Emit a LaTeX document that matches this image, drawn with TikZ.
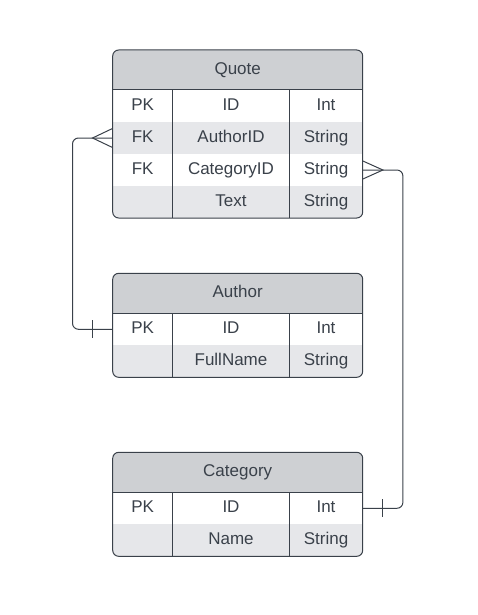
\documentclass[tikz,border=0pt]{standalone}
\usepackage{fontspec}
\setmainfont{Liberation Sans}
\definecolor{ln}{HTML}{3A414A}
\definecolor{hd}{HTML}{CED0D3}
\definecolor{rw}{HTML}{E6E7EA}
\newcommand\ertitle[3]{% name, ytop, title
  \node[cell, minimum width=250pt, minimum height=40pt] (#1) at (237.7,#2+20) {#3};}
\newcommand\errow[6]{% prefix, ytop, c1, c2, c3, unused
  \node[cell, minimum width=60pt] (#1a) at (142.7,#2+16) {#3};
  \node[cell, minimum width=116.6pt] (#1b) at (231,#2+16) {#4};
  \node[cell, minimum width=73.4pt] (#1c) at (326,#2+16) {#5};}
\begin{document}
\begin{tikzpicture}[x=1pt,y=-1pt,
  cell/.style={inner sep=0pt, minimum height=32pt, text height=12.2pt, text depth=3pt, text=ln, font=\fontsize{17}{20}\selectfont},
  border/.style={draw=ln, line width=1pt},
  conn/.style={draw=ln, line width=1pt}]
\useasboundingbox (0,0) rectangle (477,615);
% ---------- Quote ----------
\begin{scope}
  \clip[rounded corners=6pt] (112.7,50) rectangle (362.7,218);
  \fill[hd] (112.7,50) rectangle (362.7,90);
  \fill[white] (112.7,90) rectangle (362.7,122);
  \fill[rw] (112.7,122) rectangle (362.7,154);
  \fill[white] (112.7,154) rectangle (362.7,186);
  \fill[rw] (112.7,186) rectangle (362.7,218);
\end{scope}
\ertitle{quote}{50}{Quote}
\errow{qpk}{90}{PK}{ID}{Int}{}
\errow{qau}{122}{FK}{AuthorID}{String}{}
\errow{qca}{154}{FK}{CategoryID}{String}{}
\errow{qtx}{186}{}{Text}{String}{}
\draw[border] (112.7,90) -- (362.7,90);
\draw[border] (172.7,90) -- (172.7,218);
\draw[border] (289.3,90) -- (289.3,218);
\draw[border, rounded corners=6pt] (112.7,50) rectangle (362.7,218);
% ---------- Author ----------
\begin{scope}
  \clip[rounded corners=6pt] (112.7,273.3) rectangle (362.7,377.3);
  \fill[hd] (112.7,273.3) rectangle (362.7,313.3);
  \fill[white] (112.7,313.3) rectangle (362.7,345.3);
  \fill[rw] (112.7,345.3) rectangle (362.7,377.3);
\end{scope}
\ertitle{author}{273.3}{Author}
\errow{apk}{313.3}{PK}{ID}{Int}{}
\errow{afn}{345.3}{}{FullName}{String}{}
\draw[border] (112.7,313.3) -- (362.7,313.3);
\draw[border] (172.7,313.3) -- (172.7,377.3);
\draw[border] (289.3,313.3) -- (289.3,377.3);
\draw[border, rounded corners=6pt] (112.7,273.3) rectangle (362.7,377.3);
% ---------- Category ----------
\begin{scope}
  \clip[rounded corners=6pt] (112.7,452.3) rectangle (362.7,556.3);
  \fill[hd] (112.7,452.3) rectangle (362.7,492.3);
  \fill[white] (112.7,492.3) rectangle (362.7,524.3);
  \fill[rw] (112.7,524.3) rectangle (362.7,556.3);
\end{scope}
\ertitle{category}{452.3}{Category}
\errow{cpk}{492.3}{PK}{ID}{Int}{}
\errow{cnm}{524.3}{}{Name}{String}{}
\draw[border] (112.7,492.3) -- (362.7,492.3);
\draw[border] (172.7,492.3) -- (172.7,556.3);
\draw[border] (289.3,492.3) -- (289.3,556.3);
\draw[border, rounded corners=6pt] (112.7,452.3) rectangle (362.7,556.3);
% ---------- Connectors ----------
% Quote.AuthorID (many) -> Author.ID (one)
\draw[conn, rounded corners=6pt] (qaua.west) -- ++(-40,0) |- (apka.west);
\draw[conn] ([yshift=9.5pt]qaua.west) -- ([xshift=-20pt]qaua.west) -- ([yshift=-9.5pt]qaua.west);
\draw[conn] ([xshift=-20pt,yshift=9pt]apka.west) -- ([xshift=-20pt,yshift=-9pt]apka.west);
% Quote.CategoryID (many) -> Category.ID (one)
\draw[conn, rounded corners=6pt] (qcac.east) -- ++(40,0) |- (cpkc.east);
\draw[conn] ([yshift=9pt]qcac.east) -- ([xshift=20pt]qcac.east) -- ([yshift=-9pt]qcac.east);
\draw[conn] ([xshift=20pt,yshift=9pt]cpkc.east) -- ([xshift=20pt,yshift=-9pt]cpkc.east);
\end{tikzpicture}
\end{document}
